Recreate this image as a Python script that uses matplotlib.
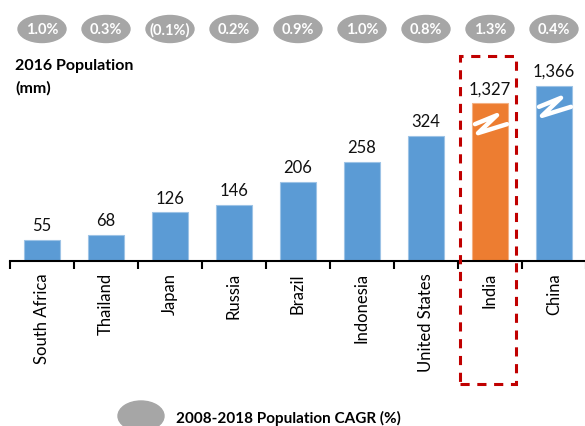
import matplotlib
matplotlib.use("Agg")
import matplotlib.pyplot as plt
from matplotlib.patches import Ellipse, Rectangle
import numpy as np

countries = ["South Africa", "Thailand", "Japan", "Russia", "Brazil",
             "Indonesia", "United States", "India", "China"]
population = [55, 68, 126, 146, 206, 258, 324, 1327, 1366]
pop_labels = ["55", "68", "126", "146", "206", "258", "324", "1,327", "1,366"]
cagr_labels = ["1.0%", "0.3%", "(0.1%)", "0.2%", "0.9%", "1.0%", "0.8%", "1.3%", "0.4%"]
# broken-axis display heights for bars that are too tall to draw to scale
broken_display = {"India": 410, "China": 455}
highlight = "India"

W, H = 585, 427
plt.rcParams['font.family'] = ['Lato', 'DejaVu Sans']
fig = plt.figure(figsize=(W / 100, H / 100), dpi=100)

px_per_unit = 0.385
ax_left, ax_right, ax_bottom_px, ax_top_px = 10, 586, 262, 0
ax = fig.add_axes([ax_left / W, 1 - ax_bottom_px / H, (ax_right - ax_left) / W,
                   (ax_bottom_px - ax_top_px) / H])
ymax = (ax_bottom_px - ax_top_px) / px_per_unit
ax.set_xlim(-0.5, len(countries) - 0.5)
ax.set_ylim(0, ymax)
xs = np.arange(len(countries))

blue = "#5b9bd5"
orange = "#ed7d31"
heights = [broken_display.get(c, v) for c, v in zip(countries, population)]
colors = [orange if c == highlight else blue for c in countries]
ax.bar(xs, heights, width=0.56, color=colors,
       edgecolor=["#f4b183" if c == highlight else "#9dc3e6" for c in countries],
       linewidth=0.8, zorder=2)

for x, h, lab in zip(xs, heights, pop_labels):
    ax.annotate(lab, (x, h), xytext=(0, 5), textcoords="offset points",
                ha="center", va="bottom", fontsize=12, color="#111111")

# zigzag break marks
ux = 1 / 64.0
uy = 1 / px_per_unit
for c, h in broken_display.items():
    i = countries.index(c)
    yb = h - 21 * uy
    zx = [i - 15 * ux, i + 7 * ux, i - 12 * ux, i + 17 * ux]
    zy = [yb, yb + 9 * uy, yb - 9 * uy, yb]
    ax.plot(zx, zy, color="white", lw=3.2, solid_joinstyle="round",
            solid_capstyle="round", zorder=3)

# CAGR ellipses
ey = (ax_bottom_px - 30) / px_per_unit
for x, lab in zip(xs, cagr_labels):
    e = Ellipse((x, ey), width=48 * ux, height=27 * uy, color="#a6a6a6",
                clip_on=False, zorder=2)
    ax.add_patch(e)
    ax.text(x, ey, lab, ha="center", va="center", color="white",
            fontsize=10.5, fontweight="bold", zorder=3)

# highlight box
hi = countries.index(highlight)
x0 = hi + (460 - 490) * ux
x1 = hi + (516 - 490) * ux
y0 = (ax_bottom_px - 385) / px_per_unit
y1 = (ax_bottom_px - 57) / px_per_unit
rect = Rectangle((x0, y0), x1 - x0, y1 - y0, fill=False, edgecolor="#c00000",
                 linewidth=2.2, linestyle=(0, (3, 2.5)), clip_on=False, zorder=4)
ax.add_patch(rect)

# axes styling
for s in ["top", "right", "left"]:
    ax.spines[s].set_visible(False)
ax.spines["bottom"].set_linewidth(1.5)
ax.spines["bottom"].set_color("black")
ax.set_yticks([])
ax.set_xticks(np.arange(-0.5, len(countries), 1.0))
ax.set_xticklabels([])
ax.tick_params(axis="x", which="major", length=6, width=1.5, direction="out", color="black")
ax.set_xticks(xs, minor=True)
ax.set_xticklabels(countries, minor=True, rotation=90, fontsize=12)
ax.tick_params(axis="x", which="minor", length=0, pad=8)

# title
fig.text(15 / W, 1 - 66 / H, "2016 Population", fontsize=11.5, fontweight="bold",
         ha="left", va="center", color="black")
fig.text(15 / W, 1 - 88 / H, "(mm)", fontsize=11.5, fontweight="bold",
         ha="left", va="center", color="black")

# legend
le = Ellipse((141 / W, 1 - 417 / H), width=46 / W, height=30 / H, color="#a6a6a6",
             transform=fig.transFigure, clip_on=False)
fig.patches.append(le)
fig.text(176 / W, 1 - 418 / H, "2008-2018 Population CAGR (%)", fontsize=11,
         fontweight="bold", ha="left", va="center", color="black")

fig.savefig("out.png", dpi=100)
